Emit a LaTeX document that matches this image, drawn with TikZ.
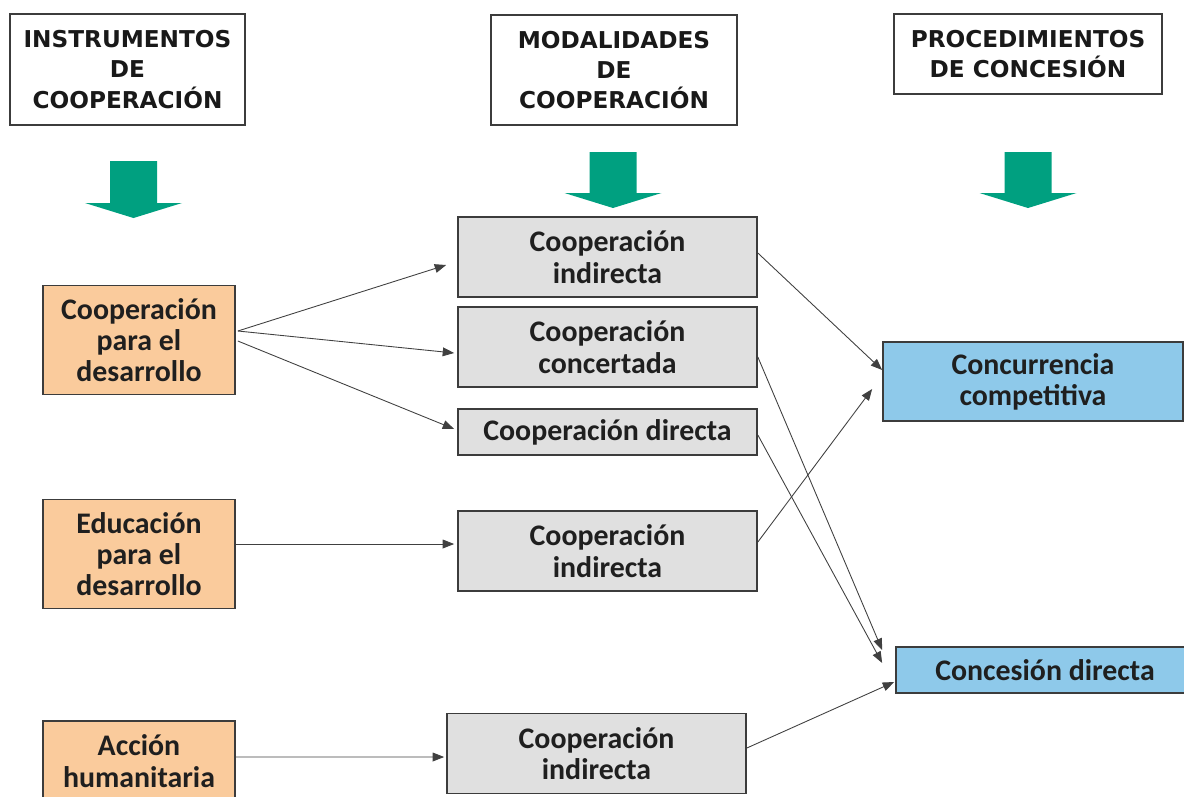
\documentclass[tikz,border=0pt]{standalone}
\usepackage{fontspec}
\setmainfont{Carlito}
\newfontfamily\hdrfont{DejaVu Sans}
\usetikzlibrary{arrows.meta,calc}

\definecolor{naranja}{RGB}{250,203,156}
\definecolor{gris}{RGB}{224,224,224}
\definecolor{azul}{RGB}{142,201,234}
\definecolor{verde}{RGB}{0,160,128}
\definecolor{borde}{RGB}{60,60,60}

\tikzset{
	titulo/.style={draw=borde, line width=1pt, fill=white, align=center, inner sep=0pt,
		font=\hdrfont\bfseries\fontsize{13.2}{17.3}\selectfont, text=black!90},
	caja/.style={draw=borde, line width=1pt, align=center, inner sep=0pt,
		font=\bfseries\fontsize{17}{17.8}\selectfont, text=black!88},
	instr/.style={caja, fill=naranja, minimum width=3.84cm, minimum height=2.18cm},
	modal/.style={caja, fill=gris, minimum width=5.98cm, minimum height=1.6cm},
	proc/.style={caja, fill=azul, minimum width=6cm, minimum height=1.58cm},
	flecha/.style={draw=black!75, line width=0.5pt, -{Triangle[length=6.5pt,width=5pt]}},
	bajada/.style={fill=verde}
}

\begin{document}
\begin{tikzpicture}[x=0.02cm, y=-0.02cm]
		\useasboundingbox (0,0) rectangle (1184,796);
		\clip (0,0) rectangle (1184,796);
		
		\node[titulo, minimum width=4.7cm, minimum height=2.22cm] (instrumentos) at (127.5,69.5) {INSTRUMENTOS\\DE\\COOPERACIÓN};
		\node[titulo, minimum width=4.92cm, minimum height=2.2cm] (modalidades) at (614,70) {MODALIDADES\\DE\\COOPERACIÓN};
		\node[titulo, minimum width=5.36cm, minimum height=1.6cm] (procedimientos) at (1028,54) {PROCEDIMIENTOS\\DE CONCESIÓN};
		
		\fill[bajada] (110,161) -- (157,161) -- (157,203) -- (182,203) -- (133.5,218) -- (85,203) -- (110,203) -- cycle;
		\fill[bajada] (589.5,152) -- (636.5,152) -- (636.5,193) -- (661.5,193) -- (613,208) -- (564.5,193) -- (589.5,193) -- cycle;
		\fill[bajada] (1004.5,152) -- (1051.5,152) -- (1051.5,193) -- (1076.5,193) -- (1028,208) -- (979.5,193) -- (1004.5,193) -- cycle;
		
		\node[instr] (coop) at (139,340) {Cooperación\\para el\\desarrollo};
		\node[instr] (educ) at (139,554) {Educación\\para el\\desarrollo};
		\node[instr, minimum height=1.6cm] (accion) at (139,761) {Acción\\humanitaria};
		
		\node[modal] (indirectaA) at (607.5,257) {Cooperación\\indirecta};
		\node[modal] (concertada) at (607.5,347) {Cooperación\\concertada};
		\node[modal, minimum height=0.92cm] (directa) at (607.5,432) {Cooperación directa};
		\node[modal] (indirectaB) at (607.5,551) {Cooperación\\indirecta};
		\node[modal] (indirectaC) at (596.5,753.5) {Cooperación\\indirecta};
		
		\node[proc] (concurrencia) at (1033,381.5) {Concurrencia\\competitiva};
		\node[proc, minimum width=5.96cm, minimum height=0.92cm] (concesion) at (1045,670) {Concesión directa};
		
		\draw[flecha] ($(coop.east)+(2,-9)$) -- ($(indirectaA.west)+(-11,8)$);
		\draw[flecha] ($(coop.east)+(2,-9)$) -- ($(concertada.west)+(-3,6)$);
		\draw[flecha] ($(coop.east)+(2,1)$) -- ($(directa.west)+(-3,-3)$);
		\draw[flecha] ($(educ.east)+(0,-10)$) -- ($(indirectaB.west)+(-3,-7)$);
		\draw[flecha] ($(accion.east)+(0,-4)$) -- ($(indirectaC.west)+(-2,3.5)$);
		
		\draw[flecha] ($(indirectaA.east)+(0,-4)$) -- ($(concurrencia.west)+(0,-11.5)$);
		\draw[flecha] ($(concertada.east)+(0,10)$) -- ($(concesion.west)+(-13,-20)$);
		\draw[flecha] ($(directa.east)+(0,3)$) -- ($(concesion.west)+(-13,-7)$);
		\draw[flecha] ($(indirectaB.east)+(0,-9)$) -- ($(concurrencia.west)+(-10,7.5)$);
		\draw[flecha] ($(indirectaC.east)+(0,-5.5)$) -- ($(concesion.west)+(-1,12)$);
	\end{tikzpicture}
\end{document}
